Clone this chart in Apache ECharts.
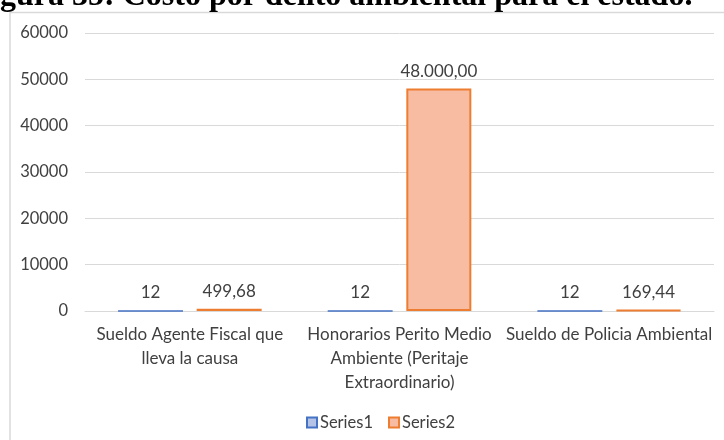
<!DOCTYPE html>
<html>
<head>
<meta charset="utf-8">
<script src="https://cdn.jsdelivr.net/npm/echarts@6/dist/echarts.min.js"></script>
<style>
  html, body { margin: 0; padding: 0; background: #fff; }
  #chart { width: 724px; height: 440px; }
</style>
</head>
<body>
<div id="chart"></div>
<script>
// Cost items (wrapped as shown on the axis)
const categories = [
  'Sueldo Agente Fiscal que\nlleva la causa',
  'Honorarios Perito Medio\nAmbiente (Peritaje\nExtraordinario)',
  'Sueldo de Policia Ambiental'
];
const series1Values = [12, 12, 12];
const series2Values = [499.68, 48000, 169.44];
const yTicks = [0, 10000, 20000, 30000, 40000, 50000, 60000];
const titleText = 'gura 35: Costo por delito ambiental para el estado.';

// Spanish-style number: thousands '.', decimals ','
function fmtEs(v, decimals) {
  const fixed = v.toFixed(decimals);
  const parts = fixed.split('.');
  const intPart = parts[0].replace(/\B(?=(\d{3})+(?!\d))/g, '.');
  return parts.length > 1 ? intPart + ',' + parts[1] : intPart;
}

const font = 'Lato, "Open Sans", sans-serif';
const chart = echarts.init(document.getElementById('chart'), null, { renderer: 'canvas' });

chart.setOption({
  animation: false,
  textStyle: { fontFamily: font },
  graphic: [
    {
      type: 'rect',
      shape: { x: 10, y: 12.5, width: 760, height: 460 },
      style: { fill: 'none', stroke: '#d9d9d9', lineWidth: 1.5 },
      silent: true, z: -1
    },
    {
      type: 'text',
      left: 0, top: -19,
      style: {
        text: titleText,
        font: 'bold 32px "Liberation Serif", "Times New Roman", serif',
        fill: '#000'
      }
    }
  ],
  grid: { left: 85, right: 10, top: 33, bottom: 129, containLabel: false },
  legend: {
    top: 409,
    left: 301,
    itemWidth: 10,
    itemHeight: 10,
    itemGap: 15,
    icon: 'rect',
    textStyle: { fontFamily: font, fontSize: 16.5, color: '#404040', padding: [0, 0, 0, -2] },
    data: ['Series1', 'Series2']
  },
  xAxis: {
    type: 'category',
    data: categories,
    axisLine: { lineStyle: { color: '#d9d9d9', width: 1 } },
    axisTick: { show: false },
    axisLabel: {
      interval: 0,
      fontSize: 17,
      lineHeight: 24,
      color: '#404040',
      margin: 12,
      fontFamily: font
    }
  },
  yAxis: {
    type: 'value',
    min: yTicks[0],
    max: yTicks[yTicks.length - 1],
    interval: yTicks[1] - yTicks[0],
    axisLine: { show: false },
    axisTick: { show: false },
    splitLine: { lineStyle: { color: '#d9d9d9', width: 1 } },
    axisLabel: {
      fontSize: 16.5,
      color: '#404040',
      margin: 17,
      fontFamily: font,
      formatter: v => String(v)
    }
  },
  series: [
    {
      name: 'Series1',
      type: 'bar',
      data: series1Values,
      barWidth: '31%',
      barGap: '21%',
      itemStyle: { color: '#b4c3e6', borderColor: '#4472c4', borderWidth: 1.5 },
      label: {
        show: true, position: 'top', distance: 9,
        fontSize: 17, color: '#404040', fontFamily: font,
        formatter: p => fmtEs(p.value, 0)
      }
    },
    {
      name: 'Series2',
      type: 'bar',
      data: series2Values,
      barWidth: '31%',
      itemStyle: { color: '#f8bca2', borderColor: '#ed7d31', borderWidth: 2 },
      label: {
        show: true, position: 'top', distance: 9,
        fontSize: 17, color: '#404040', fontFamily: font,
        formatter: p => fmtEs(p.value, 2)
      }
    }
  ]
});
</script>
</body>
</html>
